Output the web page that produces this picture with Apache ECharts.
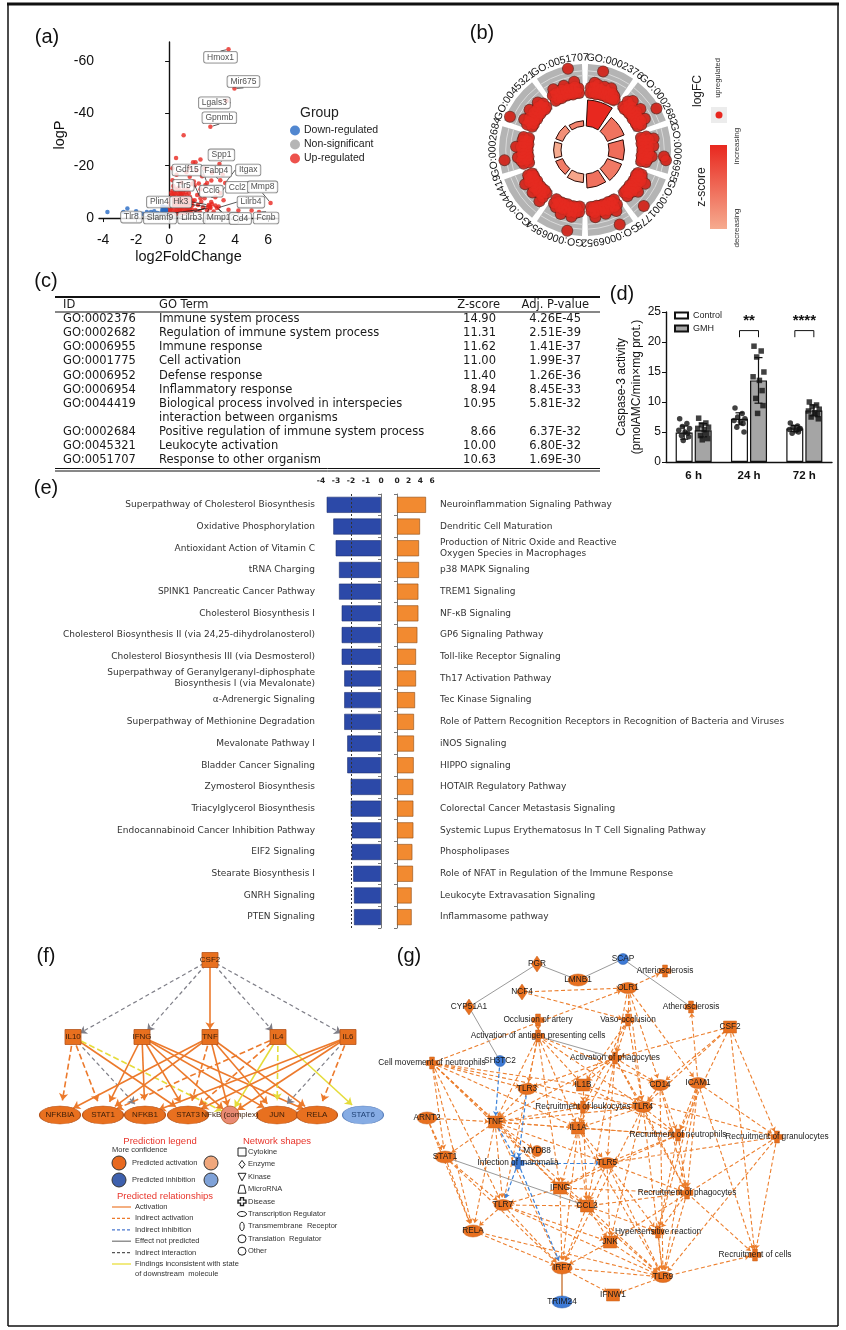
<!DOCTYPE html>
<html>
<head>
<meta charset="utf-8">
<title>GMH transcriptome and pathway figure</title>
<script src="https://cdn.jsdelivr.net/npm/echarts@6.0.0/dist/echarts.min.js"></script>
<style>
  html, body { margin: 0; padding: 0; background: #ffffff; }
  #fig { width: 846px; height: 1330px; }
</style>
</head>
<body>
<div id="fig"></div>
<script>
// ---------------- (a) volcano plot ----------------
const labelledGenes = ['Hmox1','Mir675','Lgals3','Gpnmb','Spp1','Gdf15','Fabp4','Itgax','Tlr5','Ccl6','Ccl2','Mmp8','Plin4','Hk3','Lilrb4','Tlr8','Slamf9','Lilrb3','Mmp12','Cd4','Fcnb'];
const labelledFC   = [3.6, 3.96, 3.47, 2.5, 3.05, 2.3, 3.1, 3.4, 1.9, 2.8, 3.1, 6.15, 2.5, 2.4, 2.9, 2.5, 2.36, 2.45, 2.6, 2.8, 5.45];
const labelledLogP = [-64.5, -49.5, -44.8, -34.9, -20.7, -13.4, -14.5, -13.4, -7.6, -8.0, -9.5, -5.8, -4.2, -5.0, -3.8, -3.8, -4.2, -4.6, -5.4, -4.8, -2.3];
const upPoints = [
  [0.05,-1.8],[0.07,-3.1],[0.1,-4.7],[0.11,-6.1],[0.15,-7.3],[0.17,-8.9],[0.22,-2.6],[0.27,-3.9],
  [0.3,-5.2],[0.33,-6.5],[0.37,-7.9],[0.4,-9.3],[0.45,-1.6],[0.48,-3.2],[0.52,-4.3],[0.55,-5.9],
  [0.57,-7.1],[0.61,-8.5],[0.63,-10.1],[0.7,-2.3],[0.73,-3.7],[0.77,-5.0],[0.79,-6.8],[0.81,-7.9],
  [0.84,-9.4],[0.91,-1.9],[0.95,-3.4],[0.99,-4.6],[1.01,-6.2],[1.03,-7.4],[1.06,-8.8],[1.13,-2.6],
  [1.17,-3.8],[1.21,-5.4],[1.23,-6.6],[1.26,-8.1],[1.32,-2.0],[1.38,-3.3],[1.41,-4.9],[1.44,-6.4],
  [0.08,-2.6],[0.14,-3.9],[0.19,-5.3],[0.24,-6.7],[0.29,-8.1],[0.33,-9.6],[0.4,-1.9],[0.44,-3.4],
  [0.47,-4.9],[0.51,-6.3],[0.53,-7.7],[0.56,-9.1],[0.64,-1.8],[0.66,-3.0],[0.69,-4.6],[0.71,-6.0],
  [0.75,-7.5],[0.78,-9.0],[0.86,-2.1],[0.88,-3.6],[0.92,-5.0],[0.94,-6.6],[0.97,-8.0],[1.08,-2.0],
  [1.1,-3.2],[1.14,-4.8],[1.16,-6.1],[1.19,-7.4],[1.28,-3.0],[1.3,-4.4],[1.33,-5.8],[1.35,-7.1],
  [0.03,-4.0],[0.06,-5.8],[0.09,-7.6],[0.13,-9.6],[0.46,-10.6],[0.7,-10.3],[1.0,-9.8],[1.2,-9.6],
  [0.2,-10.4],[0.36,-11.2],[0.58,-11.6],[0.88,-10.7],[0.26,-12.3],[1.12,-11.1],[0.12,-5.5],[0.43,-6.1],
  [0.67,-4.1],[0.9,-5.5],[1.1,-4.3],[0.35,-2.3],[0.62,-2.7],[1.0,-2.2],[0.25,-8.2],[0.72,-8.9],
  [1.55,-6.8],[1.6,-3.1],[1.7,-8.8],[1.75,-5.0],[1.85,-2.6],[1.95,-6.2],[2.05,-4.0],[2.15,-7.6],
  [2.3,-3.0],[2.55,-6.1],[2.7,-2.5],[3.0,-4.4],[3.3,-6.8],[3.6,-3.2],[4.2,-2.9],[5.0,-2.9],
  [1.55,-12.5],[1.9,-11.0],[0.2,-14.5],[0.75,-13.6],[1.25,-15.8],[1.5,-14.0],[1.8,-13.2],[2.2,-12.6],
  [1.05,-17.5],[1.65,-18.2],[0.45,-16.6],[2.6,-17.2],[0.42,-23.0],[1.9,-22.4],[1.45,-21.3],[1.6,-21.3],
  [1.25,-19.2],[2.15,-19.0],[0.2,-19.0],[2.0,-16.0],[0.88,-31.7],[3.25,-16.6],[2.56,-14.4],[1.4,-13.0]
];
const downPoints = [
  [-3.74,-2.3],[-2.53,-3.7],[-2.77,-2.3],[-2.0,-2.6],[-1.95,-1.6],[-1.6,-1.6],[-1.35,-2.3],[-1.1,-2.3],
  [-0.9,-2.6],[-0.7,-1.9],[-0.45,-2.2],[-0.4,-3.4],[-0.35,-4.2],[-0.3,-2.6],[-0.25,-3.6],[-0.2,-2.2],
  [-0.15,-4.0],[-0.1,-3.0],[-0.42,-4.4],[-0.32,-3.1],[-0.22,-2.0],[-0.12,-2.5],[-0.38,-2.9],[-0.28,-4.0],
  [-0.18,-3.3],[-0.08,-3.9]
];
const nsPoints = [[-0.8,-0.6],[-0.5,-1.2],[-0.2,-0.5],[0.1,-1.0],[0.35,-0.7],[-0.6,-0.3],[0.6,-1.3],[-1.0,-0.9],[0.25,-0.4],[-0.35,-1.6]];
const volcanoTicksX = [-4, -2, 0, 2, 4, 6];
const volcanoTicksY = [-60, -40, -20, 0];

// ---------------- (b)/(c) GO enrichment ----------------
const goIds = ['GO:0002376','GO:0002682','GO:0006955','GO:0001775','GO:0006952','GO:0006954','GO:0044419','GO:0002684','GO:0045321','GO:0051707'];
const goTerms = ['Immune system process','Regulation of immune system process','Immune response','Cell activation','Defense response','Inflammatory response','Biological process involved in interspecies\ninteraction between organisms','Positive regulation of immune system process','Leukocyte activation','Response to other organism'];
const goZScores = [14.90, 11.31, 11.62, 11.00, 11.40, 8.94, 10.95, 8.66, 10.00, 10.63];
const goAdjP = ['4.26E-45','2.51E-39','1.41E-37','1.99E-37','1.26E-36','8.45E-33','5.81E-32','6.37E-32','6.80E-32','1.69E-30'];
// gene logFC inside each GO term: [relative position in the term, logFC]
const termGenes = [
  [[.05,1.1],[.05,2.2],[.15,1.2],[.15,2.4],[.15,3.3],[.25,1.0],[.25,2.1],[.25,3.0],[.36,1.2],[.36,2.3],[.47,1.1],[.47,2.0],[.47,2.9],[.58,1.2],[.58,2.2],[.68,1.0],[.68,2.0],[.68,3.1],[.78,1.2],[.78,2.3],[.88,1.1],[.88,1.9],[.95,1.3],[.32,5.9]],
  [[.05,1.2],[.05,2.6],[.15,1.0],[.15,2.2],[.15,3.4],[.26,1.2],[.26,2.4],[.37,1.1],[.37,2.0],[.48,1.3],[.48,2.5],[.48,3.5],[.6,1.0],[.6,2.1],[.7,1.2],[.7,2.2],[.8,1.1],[.8,2.3],[.8,3.2],[.92,1.2],[.92,2.0],[.71,6.3]],
  [[.06,1.1],[.06,2.2],[.16,1.3],[.16,2.6],[.16,3.6],[.27,1.0],[.27,2.1],[.38,1.2],[.38,2.4],[.38,3.4],[.5,1.1],[.5,2.2],[.6,1.3],[.6,2.5],[.7,1.0],[.7,2.0],[.7,3.1],[.8,1.2],[.8,2.3],[.9,1.1],[.9,2.1],[.67,5.6],[.76,6.1]],
  [[.05,1.2],[.05,2.0],[.15,1.0],[.15,2.3],[.26,1.2],[.26,2.5],[.26,3.5],[.37,1.1],[.37,2.2],[.48,1.3],[.48,2.4],[.58,1.0],[.58,2.1],[.58,3.2],[.69,1.2],[.69,2.3],[.8,1.1],[.8,2.0],[.91,1.2],[.91,2.2],[.77,6.0]],
  [[.06,1.1],[.06,2.3],[.17,1.2],[.17,2.5],[.17,3.4],[.28,1.0],[.28,2.1],[.39,1.3],[.39,2.6],[.5,1.1],[.5,2.2],[.5,3.1],[.61,1.2],[.61,2.3],[.72,1.0],[.72,2.0],[.83,1.2],[.83,2.4],[.83,3.3],[.93,1.1],[.93,2.0],[.25,6.2]],
  [[.05,1.0],[.05,2.1],[.16,1.2],[.16,2.4],[.27,1.1],[.27,2.2],[.27,3.3],[.38,1.3],[.38,2.5],[.49,1.0],[.49,2.0],[.6,1.2],[.6,2.3],[.6,3.4],[.71,1.1],[.71,2.2],[.82,1.3],[.82,2.5],[.93,1.0],[.93,2.0],[.3,6.3]],
  [[.06,1.2],[.06,2.4],[.06,3.4],[.17,1.0],[.17,2.1],[.28,1.2],[.28,2.3],[.39,1.1],[.39,2.2],[.39,3.2],[.5,1.3],[.5,2.4],[.61,1.0],[.61,2.0],[.72,1.2],[.72,2.5],[.72,3.5],[.83,1.1],[.83,2.2],[.93,1.2],[.93,2.1]],
  [[.05,1.1],[.05,2.2],[.16,1.3],[.16,2.6],[.27,1.0],[.27,2.1],[.27,3.2],[.38,1.2],[.38,2.3],[.49,1.1],[.49,2.2],[.6,1.2],[.6,2.5],[.6,3.5],[.71,1.0],[.71,2.0],[.82,1.2],[.82,2.3],[.93,1.1],[.93,2.2],[.24,6.0]],
  [[.06,1.2],[.06,2.3],[.17,1.1],[.17,2.2],[.17,3.3],[.28,1.3],[.28,2.5],[.39,1.0],[.39,2.0],[.5,1.2],[.5,2.4],[.5,3.4],[.61,1.1],[.61,2.2],[.72,1.3],[.72,2.4],[.83,1.0],[.83,2.1],[.83,3.1],[.93,1.2],[.93,2.2],[.07,6.2]],
  [[.05,1.1],[.05,2.3],[.16,1.2],[.16,2.4],[.16,3.4],[.27,1.0],[.27,2.2],[.38,1.3],[.38,2.6],[.49,1.1],[.49,2.1],[.49,3.2],[.6,1.2],[.6,2.4],[.71,1.0],[.71,2.2],[.82,1.2],[.82,2.5],[.82,3.5],[.93,1.1],[.93,2.1],[.72,6.4]]
];

// ---------------- (d) caspase-3 activity ----------------
const timePoints = ['6 h', '24 h', '72 h'];
const controlMean = [4.9, 7.2, 5.6];
const controlSD   = [1.1, 1.0, 0.5];
const gmhMean     = [5.3, 13.6, 8.6];
const gmhSD       = [1.1, 3.8, 0.9];
const controlPoints = [[7.2,6.4,5.9,5.6,5.3,5.0,4.8,4.4,4.2,3.6],[9.0,8.1,7.5,7.2,6.9,6.7,6.4,5.8,5.0],[6.5,6.0,5.8,5.6,5.4,5.2,5.0,4.8,5.5]];
const gmhPoints     = [[7.3,6.5,6.2,5.8,5.6,5.4,4.8,4.4,3.9,3.7],[19.3,18.5,17.5,15.0,14.2,13.6,11.9,10.6,9.4,8.1],[10.0,9.5,9.2,8.8,8.5,8.2,7.9,7.5,7.2]];
const sigMarks = ['**', '****'];
const sigCategory = [1, 2];

// ---------------- (e) canonical pathways ----------------
const downPathways = ['Superpathway of Cholesterol Biosynthesis','Oxidative Phosphorylation','Antioxidant Action of Vitamin C','tRNA Charging','SPINK1 Pancreatic Cancer Pathway','Cholesterol Biosynthesis I','Cholesterol Biosynthesis II (via 24,25-dihydrolanosterol)','Cholesterol Biosynthesis III (via Desmosterol)','Superpathway of Geranylgeranyl-diphosphate\nBiosynthesis I (via Mevalonate)','α-Adrenergic Signaling','Superpathway of Methionine Degradation','Mevalonate Pathway I','Bladder Cancer Signaling','Zymosterol Biosynthesis','Triacylglycerol Biosynthesis','Endocannabinoid Cancer Inhibition Pathway','EIF2 Signaling','Stearate Biosynthesis I','GNRH Signaling','PTEN Signaling'];
const downValues = [-3.62,-3.18,-3.02,-2.80,-2.80,-2.62,-2.62,-2.62,-2.45,-2.45,-2.45,-2.25,-2.25,-2.02,-2.02,-1.95,-1.95,-1.85,-1.80,-1.80];
const upPathways = ['Neuroinflammation Signaling Pathway','Dendritic Cell Maturation','Production of Nitric Oxide and Reactive\nOxygen Species in Macrophages','p38 MAPK Signaling','TREM1 Signaling','NF-κB Signaling','GP6 Signaling Pathway','Toll-like Receptor Signaling','Th17 Activation Pathway','Tec Kinase Signaling','Role of Pattern Recognition Receptors in Recognition of Bacteria and Viruses','iNOS Signaling','HIPPO signaling','HOTAIR Regulatory Pathway','Colorectal Cancer Metastasis Signaling','Systemic Lupus Erythematosus In T Cell Signaling Pathway','Phospholipases','Role of NFAT in Regulation of the Immune Response','Leukocyte Extravasation Signaling','Inflammasome pathway'];
const upValues = [4.97,3.94,3.77,3.77,3.66,3.66,3.49,3.26,3.26,3.09,2.91,2.91,2.86,2.80,2.80,2.80,2.63,2.74,2.51,2.51];

// ---------------- (f) upstream regulator network ----------------
const fNodeNames = ['CSF2','IL10','IFNG','TNF','IL4','IL6','NFKBIA','STAT1','NFKB1','STAT3','NFkB (complex)','JUN','RELA','STAT6'];
const fNodeXY = [[190,25],[53,102],[122,102],[190,102],[258,102],[328,102],[40,180],[83,180],[125,180],[168,180],[210,180],[257,180],[297,180],[343,180]];
const fNodeKind = ['cytokine','cytokine','cytokine','cytokine','cytokine','cytokine','tr','tr','tr','tr','complex','tr','tr','tr'];
const fNodeState = ['up','up','up','up','up','up','up','up','up','up','upLight','up','up','downLight'];
const fLinks = [
  ['CSF2','IL10','indirectInteraction'],['CSF2','IFNG','indirectInteraction'],['CSF2','TNF','activation'],
  ['CSF2','IL4','indirectInteraction'],['CSF2','IL6','indirectInteraction'],
  ['IL10','NFKBIA','indirectActivation'],['IL10','STAT1','indirectActivation'],['IL10','NFKB1','indirectInteraction'],
  ['IL10','STAT3','activation'],['IL10','NFkB (complex)','inconsistentIndirect'],
  ['IFNG','STAT1','activation'],['IFNG','NFKB1','activation'],['IFNG','STAT3','activation'],
  ['IFNG','NFkB (complex)','activation'],['IFNG','JUN','activation'],['IFNG','RELA','activation'],
  ['TNF','NFKBIA','activation'],['TNF','STAT1','activation'],['TNF','STAT3','indirectActivation'],
  ['TNF','NFkB (complex)','activation'],['TNF','JUN','activation'],['TNF','RELA','activation'],
  ['IL4','STAT1','indirectActivation'],['IL4','STAT3','indirectActivation'],['IL4','NFkB (complex)','inconsistent'],
  ['IL4','JUN','inconsistentIndirect'],['IL4','STAT6','inconsistent'],
  ['IL6','NFKB1','activation'],['IL6','STAT3','activation'],['IL6','NFkB (complex)','activation'],
  ['IL6','JUN','indirectInteraction'],['IL6','RELA','indirectActivation']
];

// ---------------- (g) disease & function network ----------------
const gNodeIds = ['PGR','SCAP','LMNB1','ARTS','NCF4','OLR1','CYP51A1','ATHS','OCCL','VASO','CSF2','AAPC','CMN','SH3TC2','APHAG','TLR3','IL1B','CD14','ICAM1','RLEUK','TLR4','ARNT2','TNF','IL1A','RNEUT','RGRAN','STAT1','MYD88','INF','TLR5','IFNG','RPHAG','TLR7','CCL2','RELA','HYPER','JNK','RCELLS','IRF7','TLR9','IFNW1','TRIM24'];
const gNodeLabels = ['PGR','SCAP','LMNB1','Arteriosclerosis','NCF4','OLR1','CYP51A1','Atherosclerosis','Occlusion of artery','Vaso-occlusion','CSF2','Activation of antigen presenting cells','Cell movement of neutrophils','SH3TC2','Activation of phagocytes','TLR3','IL1B','CD14','ICAM1','Recruitment of leukocytes','TLR4','ARNT2','TNF','IL1A','Recruitment of neutrophils','Recruitment of granulocytes','STAT1','MYD88','Infection of mammalia','TLR5','IFNG','Recruitment of phagocytes','TLR7','CCL2','RELA','Hypersensitive reaction','JNK','Recruitment of cells','IRF7','TLR9','IFNW1','TRIM24'];
const gNodeXY = [[157,29],[243,24],[198,45],[285,36],[142,57],[248,53],[89,72],[311,72],[158,85],[248,85],[350,92],[158,101],[52,128],[120,126],[235,123],[147,154],[203,150],[280,150],[318,148],[203,172],[263,172],[47,183],[115,187],[198,193],[298,200],[397,202],[65,222],[157,216],[138,228],[227,228],[180,253],[307,258],[123,270],[207,271],[93,296],[278,297],[230,307],[375,320],[182,333],[283,342],[233,360],[182,367]];
const gNodeKind = ['diamond','circle','ellipseH','func','diamond','ellipseV','diamond','func','func','func','rect','func','func','circle','func','ellipseV','rect','ellipseV','ellipseV','func','ellipseV','ellipseH','rect','rect','func','func','ellipseH','circle','func','ellipseV','rect','func','ellipseV','rect','ellipseH','func','rect','func','ellipseH','ellipseV','rect','ellipseH'];
const gDownNodes = ['SCAP','SH3TC2','INF','TRIM24'];
const gGrayEdges = [['PGR','LMNB1'],['LMNB1','SCAP'],['SCAP','ATHS'],['PGR','CYP51A1'],['CYP51A1','SH3TC2'],['AAPC','APHAG'],['STAT1','CCL2']];
const gBlueEdges = [['SH3TC2','TNF'],['TLR3','INF'],['TNF','INF'],['INF','TLR5'],['INF','TLR7'],['INF','IRF7']];
const gTanEdges = [['IRF7','TRIM24']];
const gOrangeEdges = [
  ['NCF4','OLR1'],['NCF4','VASO'],['OLR1','ARTS'],['OLR1','VASO'],['CMN','OLR1'],['OLR1','APHAG'],['OLR1','CD14'],['OLR1','TLR4'],
  ['OLR1','ICAM1'],['ICAM1','ATHS'],['CSF2','APHAG'],['CSF2','CD14'],['CSF2','RNEUT'],['CSF2','RGRAN'],['CSF2','RCELLS'],['CSF2','TLR4'],
  ['OCCL','AAPC'],['VASO','IL1B'],['VASO','TLR4'],['VASO','APHAG'],['VASO','RLEUK'],
  ['AAPC','TLR3'],['AAPC','IL1B'],['AAPC','TNF'],['AAPC','IL1A'],['AAPC','TLR4'],['AAPC','IFNG'],['AAPC','TLR7'],['AAPC','CD14'],
  ['CMN','TNF'],['CMN','TLR3'],['CMN','IL1B'],['CMN','IL1A'],['CMN','STAT1'],['CMN','RELA'],['CMN','TLR7'],['CMN','CCL2'],['CMN','IFNG'],['CMN','TLR4'],
  ['APHAG','IL1B'],['APHAG','TLR4'],['APHAG','CD14'],['APHAG','TLR3'],['APHAG','TNF'],['APHAG','IL1A'],['APHAG','CCL2'],['APHAG','TLR5'],['APHAG','RPHAG'],
  ['TLR3','RLEUK'],['TLR3','TNF'],['IL1B','RLEUK'],['IL1B','RNEUT'],['IL1B','RGRAN'],
  ['CD14','TLR4'],['CD14','RNEUT'],['CD14','RPHAG'],['CD14','TLR9'],
  ['ICAM1','RNEUT'],['ICAM1','RGRAN'],['ICAM1','RCELLS'],['ICAM1','RPHAG'],['ICAM1','TLR9'],['ICAM1','HYPER'],
  ['RLEUK','TNF'],['RLEUK','IL1A'],['RLEUK','TLR4'],['RLEUK','CCL2'],
  ['TLR4','IL1A'],['TLR4','TNF'],['TLR4','RNEUT'],['TLR4','RPHAG'],['TLR4','TLR9'],['TLR4','JNK'],['TLR4','IRF7'],
  ['ARNT2','TNF'],['ARNT2','STAT1'],['ARNT2','RELA'],
  ['TNF','IL1A'],['TNF','RNEUT'],['TNF','STAT1'],['TNF','TLR7'],['TNF','RELA'],['TNF','IFNG'],['TNF','MYD88'],['TNF','TLR5'],['TNF','IRF7'],
  ['IL1A','RNEUT'],['IL1A','TLR5'],['IL1A','IFNG'],['IL1A','CCL2'],['IL1A','IRF7'],['IL1A','TLR9'],
  ['RNEUT','TLR5'],['RNEUT','RPHAG'],['RNEUT','HYPER'],['RNEUT','IFNG'],
  ['RGRAN','TLR5'],['RGRAN','RCELLS'],['RGRAN','TLR9'],['RGRAN','JNK'],
  ['STAT1','TLR7'],['STAT1','RELA'],['STAT1','IRF7'],
  ['TLR5','IFNG'],['TLR5','CCL2'],['TLR5','RPHAG'],['TLR5','HYPER'],['TLR5','TLR9'],['TLR5','JNK'],
  ['IFNG','CCL2'],['IFNG','TLR7'],['IFNG','RPHAG'],['IFNG','IRF7'],['IFNG','TLR9'],
  ['RPHAG','CCL2'],['RPHAG','HYPER'],['RPHAG','TLR9'],['RPHAG','RCELLS'],
  ['TLR7','RELA'],['TLR7','CCL2'],['TLR7','IRF7'],['TLR7','JNK'],['TLR7','TLR9'],
  ['CCL2','JNK'],['CCL2','IRF7'],['CCL2','HYPER'],['CCL2','TLR9'],
  ['RELA','IRF7'],['RELA','TLR9'],['JNK','IRF7'],['JNK','TLR9'],['IRF7','TLR9'],['IRF7','IFNW1'],['TLR9','IFNW1'],['TLR9','RCELLS'],['HYPER','TLR9']
];

// ================= drawing =================
const SANS = '"Liberation Sans", Arial, Helvetica, sans-serif';
const DEJA = '"DejaVu Sans", Verdana, sans-serif';
const RED = '#e8271f', BLUE = '#2569c4', GRAY = '#a3a3a3';
const ORANGE = '#e8701f', ORANGE_EDGE = '#ec7f2e';
const chart = echarts.init(document.getElementById('fig'), null, { renderer: 'canvas', width: 846, height: 1330 });

const measureCtx = document.createElement('canvas').getContext('2d');
function textWidth(t, font) { measureCtx.font = font; return measureCtx.measureText(t).width; }

// label displacement for the labelled genes (pixels, relative to each point)
const volcanoLabelShift = [[-8,8],[9,-7],[-12,2],[9,-9],[2,-9],[-20,-13],[-4,-9],[23,-13],[-17,-13],[-4,-6],[17,-6],[-8,-16],[-51,-5],[-28,-3],[34,-6],[-79,9],[-48,11],[-18,12],[9,14],[25,13],[7,6]];

// ---- polar helpers for the GO circle ----
const SECTOR = 36, SECTOR_PAD = 2;
function polarInfo(api, cs, r, a) {
  const p = api.coord([r, a]);
  return { r: Math.hypot(p[0] - cs.cx, p[1] - cs.cy), ang: Math.atan2(p[1] - cs.cy, p[0] - cs.cx) };
}
function fixEnd(s, e) { while (e <= s) e += Math.PI * 2; return e; }
const bandLogFCMax = 7, goLabelRadius = 8.3, innerAxisMin = 26, innerAxisMax = 45;
const zColors = ['#f6ab8f', '#e8281f'];
const zMin = Math.min.apply(null, goZScores), zMax = Math.max.apply(null, goZScores);

const circlePoints = [];
termGenes.forEach((list, i) => {
  list.forEach(([f, fc]) => {
    const a = i * SECTOR + SECTOR_PAD + 2 + f * (SECTOR - 2 * SECTOR_PAD - 4);
    circlePoints.push([fc, a]);
  });
});

// ---- caspase dots ----
const jitter = [-5, 3, -2, 6, -6, 1, 4, -3, 5, -1];
const BAR_SHIFT = 9.5;
function dotData(groups, side) {
  const out = [];
  groups.forEach((vals, c) => vals.forEach((v, k) => out.push({ value: [c, v], symbolOffset: [side * BAR_SHIFT + jitter[k % jitter.length] * 0.9, 0] })));
  return out;
}

// ---- network styles ----
const relStyle = {
  activation:           { color: '#ec7a2c', type: 'solid', width: 1.6, opacity: 1 },
  indirectActivation:   { color: '#ec7a2c', type: [6, 3], width: 1.6, opacity: 1 },
  indirectInteraction:  { color: '#7f7f88', type: [4, 3], width: 1.2, opacity: 1 },
  inconsistent:         { color: '#e5dc3a', type: 'solid', width: 1.6, opacity: 1 },
  inconsistentIndirect: { color: '#e5dc3a', type: [6, 3], width: 1.6, opacity: 1 }
};
const ELLIPSE = 'path://M0,10A20,10 0 1,1 40,10A20,10 0 1,1 0,10Z';
const FUNC = 'path://M3,0H7V3H10V7H7V10H3V7H0V3H3Z';
const fNodeStyle = {
  cytokine: { symbol: 'rect', size: [16, 15] },
  tr: { symbol: ELLIPSE, size: [41, 18] },
  complex: { symbol: 'circle', size: 18 }
};
const fStateColor = { up: ORANGE, upLight: '#e88a73', downLight: '#86ace4' };
const gKindStyle = {
  rect: { symbol: 'rect', size: [13, 12] },
  diamond: { symbol: 'diamond', size: [11, 16] },
  ellipseH: { symbol: ELLIPSE, size: [20, 12] },
  ellipseV: { symbol: ELLIPSE, size: [11, 18], rotate: 90 },
  circle: { symbol: 'circle', size: 11 },
  func: { symbol: FUNC, size: 12 }
};

const fNodes = fNodeNames.map((n, i) => {
  const st = fNodeStyle[fNodeKind[i]];
  return {
    name: n, value: fNodeXY[i], symbol: st.symbol, symbolSize: st.size,
    itemStyle: { color: fStateColor[fNodeState[i]], borderColor: fNodeState[i] === 'downLight' ? '#5b82bf' : '#b5531a', borderWidth: 0.8 },
    label: { show: true, position: 'inside', fontSize: 8, color: n === 'STAT6' ? '#1d3f73' : '#3a1d08' }
  };
});
const fEdges = fLinks.map(([s, t, k]) => ({ source: s, target: t, lineStyle: relStyle[k] }));

const gNodes = gNodeIds.map((id, i) => {
  const st = gKindStyle[gNodeKind[i]];
  const down = gDownNodes.indexOf(id) >= 0;
  return {
    name: id, value: gNodeXY[i], symbol: st.symbol, symbolSize: st.size,
    symbolRotate: st.rotate || 0,
    itemStyle: { color: down ? '#3d7ad6' : ORANGE, borderColor: down ? '#2c5ea8' : '#c9601a', borderWidth: 0.5 },
    label: { show: true, position: 'inside', formatter: gNodeLabels[i], fontSize: 8.3, color: '#1a1a1a', fontFamily: SANS }
  };
});
const gEdges = []
  .concat(gOrangeEdges.map(([s, t]) => ({ source: s, target: t, lineStyle: { color: ORANGE_EDGE, type: [4, 2.5], width: 1.1, opacity: 1 } })))
  .concat(gGrayEdges.map(([s, t]) => ({ source: s, target: t, symbol: ['none', 'none'], lineStyle: { color: '#9a9a9a', type: 'solid', width: 1, opacity: 1 } })))
  .concat(gBlueEdges.map(([s, t]) => ({ source: s, target: t, lineStyle: { color: '#3d83d9', type: [4, 2.5], width: 1.2, opacity: 1 } })))
  .concat(gTanEdges.map(([s, t]) => ({ source: s, target: t, symbol: ['none', 'none'], lineStyle: { color: '#d9a074', type: 'solid', width: 2, opacity: 1 } })));

// ---- table (c) ----
const tableFont = 11.5;
const tableEls = [];
const T = { left: 55, right: 600, idX: 63, termX: 159, zHead: 500, zVal: 496, pHead: 589, pVal: 581, top: 297, headY: 305, firstRow: 319, rowH: 14.15 };
function tText(x, y, s, align) {
  tableEls.push({ type: 'text', x: x, y: y, style: { text: s, fontFamily: DEJA, fontSize: tableFont, fill: '#1a1a1a', align: align || 'left', verticalAlign: 'middle' } });
}
tableEls.push({ type: 'line', shape: { x1: T.left, y1: T.top, x2: T.right, y2: T.top }, style: { stroke: '#111', lineWidth: 2 } });
tText(T.idX, T.headY, 'ID'); tText(T.termX, T.headY, 'GO Term');
tText(T.zHead, T.headY, 'Z-score', 'right'); tText(T.pHead, T.headY, 'Adj. P-value', 'right');
tableEls.push({ type: 'line', shape: { x1: T.left, y1: T.headY + 7, x2: T.right, y2: T.headY + 7 }, style: { stroke: '#111', lineWidth: 1.2 } });
let rowIdx = 0;
goIds.forEach((id, i) => {
  const y = T.firstRow + rowIdx * T.rowH;
  const lines = goTerms[i].split('\n');
  tText(T.idX, y, id);
  lines.forEach((ln, k) => tText(T.termX, y + k * T.rowH, ln));
  tText(T.zVal, y, goZScores[i].toFixed(2), 'right');
  tText(T.pVal, y, goAdjP[i], 'right');
  rowIdx += lines.length;
});
const tableBottom = T.firstRow + (rowIdx - 1) * T.rowH + 8;
tableEls.push({ type: 'line', shape: { x1: T.left, y1: tableBottom, x2: T.right, y2: tableBottom }, style: { stroke: '#111', lineWidth: 1 } });
tableEls.push({ type: 'line', shape: { x1: T.left, y1: tableBottom + 2.5, x2: T.right, y2: tableBottom + 2.5 }, style: { stroke: '#111', lineWidth: 1 } });

// ---- legend of (f) ----
const legendEls = [];
function lt(x, y, s, opt) {
  legendEls.push({ type: 'text', x: x, y: y, style: Object.assign({ text: s, fontFamily: SANS, fontSize: 7.5, fill: '#333', align: 'left', verticalAlign: 'middle' }, opt || {}) });
}
lt(160, 1141, 'Prediction legend', { fontSize: 9.5, fill: '#e8352b', align: 'center' });
lt(112, 1150, 'More confidence', { fontSize: 7.5 });
[[119, 1163, '#e8691f'], [211, 1163, '#f0a77c'], [119, 1180, '#3e60ad'], [211, 1180, '#7fa2d8']].forEach(([x, y, c]) => {
  legendEls.push({ type: 'circle', shape: { cx: x, cy: y, r: 7 }, style: { fill: c, stroke: '#333', lineWidth: 1 } });
});
lt(132, 1163, 'Predicted activation'); lt(132, 1180, 'Predicted inhibition');
lt(165, 1196, 'Predicted relationships', { fontSize: 9.5, fill: '#e8352b', align: 'center' });
[['Activation', '#ec7a2c', null], ['Indirect activation', '#ec7a2c', [3, 2]], ['Indirect inhibition', '#4a78d0', [3, 2]],
 ['Effect not predicted', '#777', null], ['Indirect interaction', '#555', [3, 2]], ['Findings inconsistent with state', '#e7dc2c', null]]
  .forEach(([s, c, d], k) => {
    const y = 1207 + k * 11.4;
    legendEls.push({ type: 'line', shape: { x1: 112, y1: y, x2: 131, y2: y }, style: { stroke: c, lineWidth: 1.2, lineDash: d } });
    lt(135, y, s);
  });
lt(135, 1274, 'of downstream  molecule');
lt(277, 1141, 'Network shapes', { fontSize: 9.5, fill: '#e8352b', align: 'center' });
const shapeNames = ['Cytokine', 'Enzyme', 'Kinase', 'MicroRNA', 'Disease', 'Transcription Regulator', 'Transmembrane  Receptor', 'Translation  Regulator', 'Other'];
shapeNames.forEach((s, k) => {
  const y = 1152 + k * 12.4, x = 242;
  const st = { fill: 'none', stroke: '#222', lineWidth: 1 };
  if (k === 0) legendEls.push({ type: 'rect', shape: { x: x - 4, y: y - 4, width: 8, height: 8 }, style: st });
  else if (k === 1) legendEls.push({ type: 'polygon', shape: { points: [[x, y - 4], [x + 3, y], [x, y + 4], [x - 3, y]] }, style: st });
  else if (k === 2) legendEls.push({ type: 'polygon', shape: { points: [[x - 4, y - 3.5], [x + 4, y - 3.5], [x, y + 4]] }, style: st });
  else if (k === 3) legendEls.push({ type: 'polygon', shape: { points: [[x - 2, y - 4], [x + 2, y - 4], [x + 4, y + 4], [x - 4, y + 4]] }, style: st });
  else if (k === 4) legendEls.push({ type: 'polygon', shape: { points: [[x - 1.5, y - 4], [x + 1.5, y - 4], [x + 1.5, y - 1.5], [x + 4, y - 1.5], [x + 4, y + 1.5], [x + 1.5, y + 1.5], [x + 1.5, y + 4], [x - 1.5, y + 4], [x - 1.5, y + 1.5], [x - 4, y + 1.5], [x - 4, y - 1.5], [x - 1.5, y - 1.5]] }, style: Object.assign({}, st, { lineWidth: 1.4 }) });
  else if (k === 5) legendEls.push({ type: 'ellipse', shape: { cx: x, cy: y, rx: 4.5, ry: 2.5 }, style: st });
  else if (k === 6) legendEls.push({ type: 'ellipse', shape: { cx: x, cy: y, rx: 2.2, ry: 4.2 }, style: st });
  else legendEls.push({ type: 'circle', shape: { cx: x, cy: y, r: 4 }, style: st });
  lt(248, y, s);
});

// ---- legend of (b) ----
const bLegend = [
  { type: 'text', x: 698, y: 91, rotation: Math.PI / 2, style: { text: 'logFC', fontFamily: SANS, fontSize: 12, fill: '#222', align: 'center', verticalAlign: 'middle' } },
  { type: 'text', x: 718, y: 78, rotation: Math.PI / 2, style: { text: 'upregulated', fontFamily: SANS, fontSize: 7.5, fill: '#333', align: 'center', verticalAlign: 'middle' } },
  { type: 'rect', shape: { x: 711, y: 107, width: 16, height: 16 }, style: { fill: '#ececec' } },
  { type: 'circle', shape: { cx: 719, cy: 115, r: 3.5 }, style: { fill: RED } },
  { type: 'text', x: 702, y: 187, rotation: Math.PI / 2, style: { text: 'z-score', fontFamily: SANS, fontSize: 12, fill: '#222', align: 'center', verticalAlign: 'middle' } },
  { type: 'rect', shape: { x: 710, y: 145, width: 17, height: 84 }, style: { fill: { type: 'linear', x: 0, y: 0, x2: 0, y2: 1, colorStops: [{ offset: 0, color: zColors[1] }, { offset: 1, color: zColors[0] }] } } },
  { type: 'text', x: 737, y: 146, rotation: Math.PI / 2, style: { text: 'increasing', fontFamily: SANS, fontSize: 8, fill: '#333', align: 'center', verticalAlign: 'middle' } },
  { type: 'text', x: 737, y: 228, rotation: Math.PI / 2, style: { text: 'decreasing', fontFamily: SANS, fontSize: 8, fill: '#333', align: 'center', verticalAlign: 'middle' } }
];

// ---- panel letters and frame ----
const panelLetters = [['(a)', 47, 37], ['(b)', 482, 33], ['(c)', 46, 281], ['(d)', 622, 294], ['(e)', 46, 488], ['(f)', 46, 956], ['(g)', 409, 956]];
const frameEls = [
  { type: 'line', shape: { x1: 7, y1: 4, x2: 839, y2: 4 }, style: { stroke: '#111', lineWidth: 3 } },
  { type: 'line', shape: { x1: 8, y1: 4, x2: 8, y2: 1326 }, style: { stroke: '#111', lineWidth: 1.5 } },
  { type: 'line', shape: { x1: 838, y1: 4, x2: 838, y2: 1326 }, style: { stroke: '#111', lineWidth: 1.5 } },
  { type: 'line', shape: { x1: 8, y1: 1326, x2: 838, y2: 1326 }, style: { stroke: '#111', lineWidth: 1.5 } }
];
const letterEls = panelLetters.map(([s, x, y]) => ({ type: 'text', x: x, y: y, style: { text: s, fontFamily: SANS, fontSize: 20, fill: '#111', align: 'center', verticalAlign: 'middle' } }));
const groupTitle = { type: 'text', x: 300, y: 113, style: { text: 'Group', fontFamily: SANS, fontSize: 14, fill: '#222', align: 'left', verticalAlign: 'middle' } };

const blackAxis = { lineStyle: { color: '#111', width: 1.4 } };
const option = {
  animation: false,
  backgroundColor: '#ffffff',
  textStyle: { fontFamily: SANS },
  grid: [
    { left: 99, top: 42, width: 179, height: 186, containLabel: false, outerBoundsMode: 'none' },
    { left: 666, top: 312, width: 166, height: 150, containLabel: false, outerBoundsMode: 'none' },
    { left: 321, top: 494, width: 60, height: 434, containLabel: false, outerBoundsMode: 'none' },
    { left: 397, top: 494, width: 35, height: 434, containLabel: false, outerBoundsMode: 'none' },
    { left: 20, top: 935, width: 370, height: 380, containLabel: false, outerBoundsMode: 'none' },
    { left: 380, top: 935, width: 430, height: 385, containLabel: false, outerBoundsMode: 'none' }
  ],
  xAxis: [
    { gridIndex: 0, type: 'value', min: -4.25, max: 6.6, splitLine: { show: false }, axisLine: blackAxis,
      axisTick: { show: true, length: 4, lineStyle: { color: '#111' }, customValues: volcanoTicksX },
      axisLabel: { fontSize: 14, color: '#111', margin: 5, customValues: volcanoTicksX },
      name: 'log2FoldChange', nameLocation: 'middle', nameGap: 21, nameTextStyle: { fontSize: 14.5, color: '#111' } },
    { gridIndex: 1, type: 'category', data: timePoints, axisLine: blackAxis, axisTick: { show: false },
      axisLabel: { fontSize: 11.5, fontWeight: 'bold', color: '#111', margin: 8 } },
    { gridIndex: 2, type: 'value', position: 'top', min: -4, max: 0, interval: 1, splitLine: { show: false },
      axisLine: { show: false }, axisTick: { show: false }, axisLabel: { fontSize: 7.5, fontWeight: 'bold', color: '#222', margin: 9, fontFamily: DEJA } },
    { gridIndex: 3, type: 'value', position: 'top', min: 0, max: 6, interval: 2, splitLine: { show: false },
      axisLine: { show: false }, axisTick: { show: false }, axisLabel: { fontSize: 7.5, fontWeight: 'bold', color: '#222', margin: 9, fontFamily: DEJA } },
    { gridIndex: 4, type: 'value', min: 0, max: 370, show: false },
    { gridIndex: 5, type: 'value', min: 0, max: 430, show: false }
  ],
  yAxis: [
    { gridIndex: 0, type: 'value', inverse: true, min: -67.3, max: 3.8, splitLine: { show: false }, axisLine: Object.assign({ show: true }, blackAxis),
      axisTick: { show: true, length: 4, lineStyle: { color: '#111' }, customValues: volcanoTicksY },
      axisLabel: { fontSize: 14, color: '#111', margin: 5, customValues: volcanoTicksY },
      name: 'logP', nameLocation: 'middle', nameGap: 32, nameRotate: 90, nameTextStyle: { fontSize: 14.5, color: '#111' } },
    { gridIndex: 1, type: 'value', min: 0, max: 25, interval: 5, splitLine: { show: false }, axisLine: Object.assign({ show: true }, blackAxis),
      axisTick: { show: true, length: 4, lineStyle: { color: '#111' } }, axisLabel: { fontSize: 12, color: '#111', margin: 5 },
      name: 'Caspase-3 activity\n(pmolAMC/min×mg prot.)', nameLocation: 'middle', nameGap: 22, nameRotate: 90,
      nameTextStyle: { fontSize: 12, color: '#111', lineHeight: 15 } },
    { gridIndex: 2, type: 'category', data: downPathways, inverse: true,
      axisLine: { show: true, lineStyle: { color: '#777', width: 1 } }, axisTick: { show: true, length: 3, lineStyle: { color: '#777' } },
      axisLabel: { fontSize: 9, color: '#333', margin: 6, fontFamily: DEJA, lineHeight: 11, align: 'right' } },
    { gridIndex: 3, type: 'category', data: upPathways, inverse: true,
      axisLine: { show: true, lineStyle: { color: '#777', width: 1 } }, axisTick: { show: true, length: 3, lineStyle: { color: '#777' } },
      axisLabel: { show: false } },
    { gridIndex: 3, type: 'category', data: upPathways, inverse: true, position: 'right',
      axisLine: { show: false }, axisTick: { show: false },
      axisLabel: { fontSize: 9, color: '#333', margin: 8, fontFamily: DEJA, lineHeight: 11, align: 'left' } },
    { gridIndex: 4, type: 'value', min: 0, max: 380, inverse: true, show: false },
    { gridIndex: 5, type: 'value', min: 0, max: 385, inverse: true, show: false }
  ],
  polar: [
    { center: [585, 150], radius: [52, 86] },
    { center: [585, 150], radius: [24, 51] }
  ],
  angleAxis: [
    { polarIndex: 0, type: 'value', min: 0, max: 360, startAngle: 90, clockwise: true, show: false },
    { polarIndex: 1, type: 'value', min: 0, max: 360, startAngle: 90, clockwise: true, show: false }
  ],
  radiusAxis: [
    { polarIndex: 0, type: 'value', min: 0, max: bandLogFCMax, show: false },
    { polarIndex: 1, type: 'value', min: innerAxisMin, max: innerAxisMax, show: false }
  ],
  legend: [
    { data: ['Down-regulated', 'Non-significant', 'Up-regulated'], orient: 'vertical', left: 290, top: 125, icon: 'circle',
      itemWidth: 10, itemHeight: 10, itemGap: 3, selectedMode: false, padding: 0,
      textStyle: { fontSize: 10.5, color: '#222', fontFamily: SANS, padding: [0, 0, 0, -1] } },
    { data: ['Control', 'GMH'], orient: 'vertical', left: 674, top: 311, icon: 'rect', itemWidth: 13, itemHeight: 6,
      itemGap: 4, selectedMode: false, padding: 0, textStyle: { fontSize: 9, color: '#222', fontFamily: SANS } }
  ],
  series: [
    // (a)
    { name: 'Non-significant', type: 'scatter', xAxisIndex: 0, yAxisIndex: 0, symbolSize: 4, data: nsPoints, itemStyle: { color: GRAY }, z: 2 },
    { name: 'Down-regulated', type: 'scatter', xAxisIndex: 0, yAxisIndex: 0, symbolSize: 4.5, data: downPoints, itemStyle: { color: BLUE }, z: 3 },
    { name: 'Up-regulated', type: 'scatter', xAxisIndex: 0, yAxisIndex: 0, symbolSize: 4.5, data: upPoints, itemStyle: { color: RED }, z: 3 },
    { name: 'Up-regulated', type: 'scatter', xAxisIndex: 0, yAxisIndex: 0, symbolSize: 4.5, z: 5,
      data: labelledGenes.map((g, i) => ({ name: g, value: [labelledFC[i], labelledLogP[i]] })),
      itemStyle: { color: RED },
      label: { show: true, position: 'inside', formatter: '{b}', fontSize: 8.5, color: '#222', fontFamily: SANS,
        backgroundColor: '#ffffff', borderColor: '#666', borderWidth: 0.8, borderRadius: 2, padding: [1, 3] },
      labelLine: { show: true, lineStyle: { color: '#111', width: 0.7 } },
      labelLayout: function (p) { const s = volcanoLabelShift[p.dataIndex]; return { dx: s[0], dy: s[1] }; } },

    // (b) grey term bands
    { type: 'custom', coordinateSystem: 'polar', polarIndex: 0, silent: true, z: 1,
      data: goIds.map((id, i) => [i]),
      renderItem: function (params, api) {
        const cs = params.coordSys, i = api.value(0);
        const a0 = i * SECTOR + SECTOR_PAD, a1 = (i + 1) * SECTOR - SECTOR_PAD;
        const inS = polarInfo(api, cs, 0, a0), outE = polarInfo(api, cs, bandLogFCMax, a1);
        const s = inS.ang, e = fixEnd(s, outE.ang);
        const kids = [{ type: 'sector', shape: { cx: cs.cx, cy: cs.cy, r0: inS.r, r: outE.r, startAngle: s, endAngle: e, clockwise: true }, style: { fill: '#b4b4b4' } }];
        [4.6, 5.6].forEach(v => {
          const rr = polarInfo(api, cs, v, a0).r;
          kids.push({ type: 'arc', shape: { cx: cs.cx, cy: cs.cy, r: rr, startAngle: s, endAngle: e, clockwise: true }, style: { stroke: '#dadada', lineWidth: 1, fill: null } });
        });
        return { type: 'group', children: kids };
      } },
    // (b) gene logFC points: dark outline layer, then fill layer so overlapping genes merge
    { type: 'scatter', coordinateSystem: 'polar', polarIndex: 0, data: circlePoints, symbolSize: 12, silent: true, z: 2,
      itemStyle: { color: '#6e1a12' } },
    { type: 'scatter', coordinateSystem: 'polar', polarIndex: 0, data: circlePoints, symbolSize: 10, silent: true, z: 2,
      itemStyle: { color: '#e52a21' } },
    // (b) term significance bars coloured by z-score
    { type: 'custom', coordinateSystem: 'polar', polarIndex: 1, silent: true, z: 2,
      data: goIds.map((id, i) => [i, -Math.log10(parseFloat(goAdjP[i])), goZScores[i]]),
      renderItem: function (params, api) {
        const cs = params.coordSys, i = api.value(0);
        const a0 = i * SECTOR + SECTOR_PAD + 1, a1 = (i + 1) * SECTOR - SECTOR_PAD - 1;
        const base = polarInfo(api, cs, innerAxisMin, a0), top = polarInfo(api, cs, api.value(1), a1);
        const t = (api.value(2) - zMin) / (zMax - zMin);
        return { type: 'sector', shape: { cx: cs.cx, cy: cs.cy, r0: base.r, r: top.r, startAngle: base.ang, endAngle: fixEnd(base.ang, top.ang), clockwise: true },
          style: { fill: echarts.color.lerp(t, zColors), stroke: '#2a0a06', lineWidth: 1 } };
      } },
    // (b) curved GO identifiers
    { type: 'custom', coordinateSystem: 'polar', polarIndex: 0, silent: true, z: 3,
      data: goIds.map((id, i) => [i]),
      renderItem: function (params, api) {
        const cs = params.coordSys, i = api.value(0);
        const font = '10.5px "Liberation Sans"';
        const R = polarInfo(api, cs, goLabelRadius, 0).r;
        let ang = i * SECTOR + 1;
        const kids = [];
        for (const ch of goIds[i]) {
          const w = textWidth(ch, font);
          const mid = ang + (w / 2) / R * 180 / Math.PI;
          const p = api.coord([goLabelRadius, mid]);
          kids.push({ type: 'text', x: p[0], y: p[1], rotation: -mid * Math.PI / 180,
            style: { text: ch, fontFamily: SANS, fontSize: 10.5, fill: '#111', align: 'center', verticalAlign: 'middle' } });
          ang += w / R * 180 / Math.PI;
        }
        return { type: 'group', children: kids };
      } },

    // (d)
    { name: 'Control', type: 'bar', xAxisIndex: 1, yAxisIndex: 1, data: controlMean, barWidth: 17, barGap: '12%',
      itemStyle: { color: '#ffffff', borderColor: '#111', borderWidth: 1.2 }, z: 2 },
    { name: 'GMH', type: 'bar', xAxisIndex: 1, yAxisIndex: 1, data: gmhMean, barWidth: 17,
      itemStyle: { color: '#a5a5a5', borderColor: '#111', borderWidth: 1.2 }, z: 2 },
    { type: 'scatter', xAxisIndex: 1, yAxisIndex: 1, symbol: 'circle', symbolSize: 5.5, data: dotData(controlPoints, -1),
      itemStyle: { color: '#111' }, z: 3, silent: true },
    { type: 'scatter', xAxisIndex: 1, yAxisIndex: 1, symbol: 'rect', symbolSize: 5.5, data: dotData(gmhPoints, 1),
      itemStyle: { color: '#111' }, z: 3, silent: true },
    { type: 'custom', xAxisIndex: 1, yAxisIndex: 1, silent: true, z: 4,
      data: controlMean.map((m, c) => [c, m, controlSD[c], 0]).concat(gmhMean.map((m, c) => [c, m, gmhSD[c], 1])),
      renderItem: function (params, api) {
        const c = api.value(0), m = api.value(1), sd = api.value(2), side = api.value(3) ? 1 : -1;
        const hi = api.coord([c, m + sd]), lo = api.coord([c, m - sd]);
        const x = hi[0] + side * BAR_SHIFT, cap = 4, st = { stroke: '#111', lineWidth: 1.2 };
        return { type: 'group', children: [
          { type: 'line', shape: { x1: x, y1: hi[1], x2: x, y2: lo[1] }, style: st },
          { type: 'line', shape: { x1: x - cap, y1: hi[1], x2: x + cap, y2: hi[1] }, style: st },
          { type: 'line', shape: { x1: x - cap, y1: lo[1], x2: x + cap, y2: lo[1] }, style: st }
        ] };
      } },
    { type: 'custom', xAxisIndex: 1, yAxisIndex: 1, silent: true, z: 4,
      data: sigCategory.map((c, k) => [c, 21.9, 20.8, 23.6, k]),
      renderItem: function (params, api) {
        const c = api.value(0);
        const top = api.coord([c, api.value(1)]), foot = api.coord([c, api.value(2)]), txt = api.coord([c, api.value(3)]);
        const xl = top[0] - BAR_SHIFT, xr = top[0] + BAR_SHIFT, st = { stroke: '#111', lineWidth: 1, fill: null };
        return { type: 'group', children: [
          { type: 'polyline', shape: { points: [[xl, foot[1]], [xl, top[1]], [xr, top[1]], [xr, foot[1]]] }, style: st },
          { type: 'text', x: top[0], y: txt[1], style: { text: sigMarks[api.value(4)], fontSize: 15, fontWeight: 'bold', fill: '#111', align: 'center', verticalAlign: 'middle', fontFamily: SANS } }
        ] };
      } },

    // (e)
    { type: 'bar', xAxisIndex: 2, yAxisIndex: 2, data: downValues, barWidth: 16,
      itemStyle: { color: '#2c49a8', borderColor: '#1c2f70', borderWidth: 0.6 }, z: 2,
      markLine: { silent: true, symbol: 'none', label: { show: false }, data: [{ xAxis: -2 }],
        lineStyle: { color: '#333', type: [2, 2], width: 1 } } },
    { type: 'bar', xAxisIndex: 3, yAxisIndex: 3, data: upValues, barWidth: 16,
      itemStyle: { color: '#f28a30', borderColor: '#8c4a12', borderWidth: 0.6 }, z: 2 },

    // (f)
    { type: 'graph', coordinateSystem: 'cartesian2d', xAxisIndex: 4, yAxisIndex: 5, layout: 'none',
      data: fNodes, links: fEdges, edgeSymbol: ['none', 'arrow'], edgeSymbolSize: [0, 7], silent: true, z: 3,
      lineStyle: { opacity: 1 }, label: { fontFamily: SANS }, emphasis: { disabled: true } },
    // (g)
    { type: 'graph', coordinateSystem: 'cartesian2d', xAxisIndex: 5, yAxisIndex: 6, layout: 'none',
      data: gNodes, links: gEdges, edgeSymbol: ['none', 'arrow'], edgeSymbolSize: [0, 4.5], silent: true, z: 3,
      lineStyle: { opacity: 1 }, emphasis: { disabled: true } }
  ],
  graphic: { elements: [].concat(frameEls, letterEls, [groupTitle], bLegend, tableEls, legendEls) }
};
chart.setOption(option);
</script>
</body>
</html>
